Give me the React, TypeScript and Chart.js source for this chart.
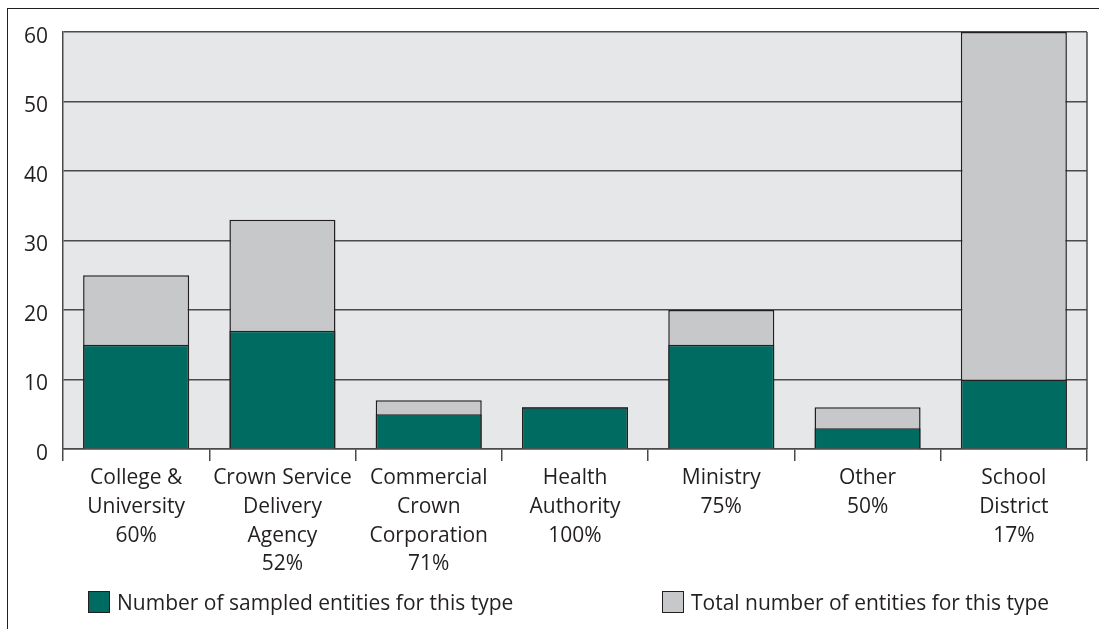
import React, { useEffect, useRef } from "react";
import { Chart, registerables } from "chart.js";

Chart.register(...registerables);

const categoryLines: string[][] = [
  ["College &", "University"],
  ["Crown Service", "Delivery", "Agency"],
  ["Commercial", "Crown", "Corporation"],
  ["Health", "Authority"],
  ["Ministry"],
  ["Other"],
  ["School", "District"],
];
const sampledCounts = [15, 17, 5, 6, 15, 3, 10];
const totalCounts = [25, 33, 7, 6, 20, 6, 60];
const seriesLabels = [
  "Number of sampled entities for this type",
  "Total number of entities for this type",
];
const yMin = 0;
const yMax = 60;
const yStep = 10;

const TEAL = "#006b60";
const GRAY = "#c7c8ca";
const PLOT_BG = "#e6e7e8";
const INK = "#231f20";
const GRID = "#4a4a4c";
const FONT = "'Open Sans', Lato, sans-serif";
const FONT_SIZE = 21;

const labels = categoryLines.map((lines, i) => [
  ...lines,
  `${Math.round((sampledCounts[i] / totalCounts[i]) * 100)}%`,
]);

const plotFrame = {
  id: "plotFrame",
  beforeDraw(chart: any) {
    const { ctx, chartArea } = chart;
    ctx.save();
    ctx.fillStyle = PLOT_BG;
    ctx.fillRect(chartArea.left, chartArea.top, chartArea.right - chartArea.left, chartArea.bottom - chartArea.top);
    ctx.restore();
  },
  beforeDatasetsDraw(chart: any) {
    const { ctx, chartArea } = chart;
    ctx.save();
    ctx.strokeStyle = GRID;
    ctx.lineWidth = 1.5;
    ctx.beginPath();
    ctx.moveTo(chartArea.right, chartArea.top);
    ctx.lineTo(chartArea.right, chartArea.bottom);
    ctx.stroke();
    ctx.restore();
  },
};

export default function App() {
  const ref = useRef<HTMLCanvasElement | null>(null);
  useEffect(() => {
    if (!ref.current) return;
    const chart = new Chart(ref.current, {
      type: "bar",
      data: {
        labels,
        datasets: [
          {
            label: seriesLabels[0],
            data: sampledCounts,
            backgroundColor: TEAL,
            borderColor: INK,
            borderWidth: 1.5,
            barPercentage: 0.725,
            categoryPercentage: 1,
            clip: false as any,
          },
          {
            label: seriesLabels[1],
            data: totalCounts,
            backgroundColor: GRAY,
            borderColor: INK,
            borderWidth: 1.5,
            barPercentage: 0.725,
            categoryPercentage: 1,
            clip: false as any,
          },
        ],
      },
      options: {
        animation: false,
        responsive: false,
        devicePixelRatio: 1,
        layout: { padding: { top: 32, right: 12, left: 0, bottom: 0 } },
        plugins: { legend: { display: false }, tooltip: { enabled: false } },
        scales: {
          x: {
            stacked: true,
            afterFit: (s: any) => {
              s.height = 180;
            },
            grid: {
              offset: true,
              drawOnChartArea: false,
              drawTicks: true,
              tickLength: 12,
              color: GRID,
              lineWidth: 1.5,
            },
            border: { display: true, color: GRID, width: 1.5 },
            ticks: {
              color: INK,
              font: { family: FONT, size: FONT_SIZE, lineHeight: 1.367 },
              padding: 3,
              maxRotation: 0,
              autoSkip: false,
            },
          },
          y: {
            stacked: false,
            min: yMin,
            max: yMax,
            afterFit: (s: any) => {
              s.width = 63;
            },
            grid: { color: GRID, lineWidth: 1.5, drawTicks: false },
            border: { display: true, color: GRID, width: 1.5 },
            ticks: {
              stepSize: yStep,
              color: INK,
              padding: 15,
              labelOffset: 5,
              font: { family: FONT, size: FONT_SIZE },
            },
          },
        },
      },
      plugins: [plotFrame],
    });
    return () => chart.destroy();
  }, []);

  const legendColors = [TEAL, GRAY];
  const legendLeft = [88, 662];

  return (
    <div style={{ position: "fixed", left: 0, top: 0, width: 1099, height: 629, overflow: "hidden", background: "#fff" }}>
      <div
        style={{
          position: "absolute",
          left: 6.5,
          top: 7.5,
          width: 1200,
          height: 700,
          borderTop: `1.5px solid ${INK}`,
          borderLeft: `1.5px solid ${INK}`,
        }}
      />
      <canvas ref={ref} width={1099} height={629} style={{ position: "absolute", left: 0, top: 0, width: 1099, height: 629 }} />
      {seriesLabels.map((lab, i) => (
        <div
          key={lab}
          style={{
            position: "absolute",
            left: legendLeft[i],
            top: 590,
            height: 23,
            display: "flex",
            alignItems: "center",
            fontFamily: FONT,
            fontSize: FONT_SIZE,
            color: INK,
            whiteSpace: "nowrap",
          }}
        >
          <span
            style={{
              display: "inline-block",
              width: 20,
              height: 20,
              background: legendColors[i],
              border: `1.5px solid ${INK}`,
              marginRight: 7,
            }}
          />
          {lab}
        </div>
      ))}
    </div>
  );
}
